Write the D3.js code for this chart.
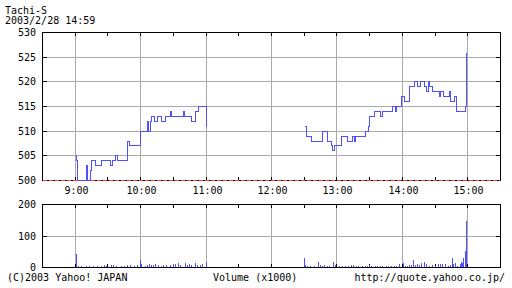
<!DOCTYPE html>
<html>
<head>
<meta charset="utf-8">
<script src="https://cdn.jsdelivr.net/npm/d3@7"></script>
<style>
  body { margin: 0; background: #fff; }
  svg { display: block; }
  text { font-family: "DejaVu Sans Mono", monospace; font-size: 10px; fill: #000; }
</style>
</head>
<body>
<div id="chart"></div>
<script>
// Header texts
const title = "Tachi-S";
const stamp = "2003/2/28 14:59";

// Axis ticks
const priceTicks = [500, 505, 510, 515, 520, 525, 530];
const volumeTicks = [0, 100, 200];
const hourTicks = ["9:00", "10:00", "11:00", "12:00", "13:00", "14:00", "15:00"];

// Price (yen), step changes, morning and afternoon sessions
const amPrice = [
  ["9:00", 505], ["9:01", 504], ["9:02", 500], ["9:10", 503], ["9:11", 500],
  ["9:14", 502], ["9:15", 504], ["9:19", 503], ["9:24", 504], ["9:32", 503],
  ["9:34", 504], ["9:37", 505], ["9:39", 504], ["9:48", 508], ["9:50", 507],
  ["10:00", 510], ["10:06", 512], ["10:07", 510], ["10:09", 512], ["10:10", 513],
  ["10:13", 512], ["10:15", 513], ["10:19", 512], ["10:23", 513], ["10:27", 514],
  ["10:28", 513], ["10:39", 514], ["10:40", 513], ["10:47", 512], ["10:50", 514],
  ["10:53", 515], ["11:00", 511]
];
const pmPrice = [
  ["12:30", 511], ["12:32", 509], ["12:37", 508], ["12:47", 510], ["12:51", 508],
  ["12:55", 507], ["12:56", 506], ["12:58", 507], ["13:04", 509], ["13:10", 508],
  ["13:14", 509], ["13:16", 508], ["13:17", 509], ["13:26", 510], ["13:29", 511],
  ["13:30", 513], ["13:34", 514], ["13:40", 513], ["13:42", 514], ["13:51", 515],
  ["13:54", 514], ["13:55", 515], ["13:59", 517], ["14:02", 516], ["14:07", 519],
  ["14:11", 520], ["14:14", 519], ["14:17", 520], ["14:20", 519], ["14:22", 518],
  ["14:24", 520], ["14:25", 519], ["14:28", 518], ["14:34", 517], ["14:35", 518],
  ["14:38", 517], ["14:43", 518], ["14:44", 516], ["14:48", 517], ["14:50", 514],
  ["14:58", 515], ["14:59", 526]
];

// Volume (x1000 shares)
const amVolume = [
  ["9:01", 42], ["9:03", 4], ["9:06", 3], ["9:10", 2], ["9:13", 3], ["9:17", 3],
  ["9:20", 2], ["9:24", 3], ["9:27", 6], ["9:29", 3], ["9:33", 6], ["9:35", 7],
  ["9:38", 3], ["9:42", 4], ["9:45", 3], ["9:48", 5], ["9:51", 6], ["9:54", 4],
  ["9:57", 6], ["10:00", 23], ["10:01", 10], ["10:04", 3], ["10:06", 6], ["10:08", 9],
  ["10:10", 6], ["10:12", 6], ["10:14", 9], ["10:16", 6], ["10:19", 3], ["10:21", 7],
  ["10:24", 5], ["10:27", 6], ["10:30", 10], ["10:32", 8], ["10:35", 14], ["10:37", 6],
  ["10:41", 14], ["10:43", 5], ["10:45", 8], ["10:47", 6], ["10:50", 14], ["10:52", 7],
  ["10:55", 6], ["10:57", 9], ["11:00", 17]
];
const pmVolume = [
  ["12:30", 28], ["12:31", 6], ["12:33", 3], ["12:36", 4], ["12:39", 3], ["12:43", 16],
  ["12:45", 6], ["12:47", 4], ["12:49", 5], ["12:51", 4], ["12:53", 3], ["12:57", 15],
  ["12:59", 5], ["13:02", 3], ["13:05", 4], ["13:08", 3], ["13:11", 4], ["13:13", 5],
  ["13:15", 5], ["13:18", 3], ["13:20", 3], ["13:23", 3], ["13:26", 4], ["13:28", 2],
  ["13:30", 5], ["13:32", 4], ["13:35", 3], ["13:37", 3], ["13:40", 3], ["13:42", 4],
  ["13:45", 3], ["13:47", 2], ["13:50", 3], ["13:53", 4], ["13:55", 4], ["13:57", 9],
  ["14:01", 14], ["14:03", 4], ["14:05", 3], ["14:07", 5], ["14:08", 6], ["14:10", 23],
  ["14:12", 6], ["14:14", 9], ["14:16", 5], ["14:18", 12], ["14:20", 16], ["14:22", 8],
  ["14:25", 4], ["14:28", 5], ["14:30", 4], ["14:33", 9], ["14:35", 10], ["14:37", 11],
  ["14:40", 8], ["14:42", 4], ["14:44", 6], ["14:46", 28], ["14:47", 10], ["14:49", 14],
  ["14:51", 4], ["14:53", 11], ["14:54", 16], ["14:55", 14], ["14:56", 27], ["14:58", 52],
  ["14:59", 147]
];

const parse = d3.timeParse("%H:%M");
const fmt = d3.timeFormat("%-H:%M");
const px = v => Math.round(v) + 0.5;

const width = 512, height = 288;
const left = 42, right = 500;
const blue = "#5050ff", grid = "#aaaaaa";

const svg = d3.select("#chart").append("svg")
  .attr("width", width)
  .attr("height", height)
  .attr("shape-rendering", "crispEdges");

const x = d3.scaleTime()
  .domain([parse("8:30"), parse("15:30")])
  .range([left, right]);

const y = d3.scaleLinear().domain([500, 530]).range([180, 32]);
const yv = d3.scaleLinear().domain([0, 200]).range([267, 204]);

const halfHours = d3.timeMinute.every(30).range(parse("9:00"), parse("15:01"));

// Header
svg.append("text").attr("x", 5).attr("y", 14).text(title);
svg.append("text").attr("x", 5).attr("y", 24).text(stamp);

// Frame, grid and ticks for one panel
function panel(ys, gridValues, labels) {
  const top = ys.range()[1], bottom = ys.range()[0];
  const g = svg.append("g");

  g.selectAll(".hgrid").data(gridValues).enter().append("line")
    .attr("x1", left).attr("x2", right)
    .attr("y1", d => px(ys(d))).attr("y2", d => px(ys(d)))
    .attr("stroke", grid);

  g.selectAll(".vgrid").data(hourTicks).enter().append("line")
    .attr("x1", d => px(x(parse(d)))).attr("x2", d => px(x(parse(d))))
    .attr("y1", top).attr("y2", bottom)
    .attr("stroke", grid);

  g.append("rect")
    .attr("x", px(left)).attr("y", px(top))
    .attr("width", right - left).attr("height", bottom - top)
    .attr("fill", "none").attr("stroke", "#000");

  // 30 minute ticks on top and bottom
  g.selectAll(".ttick").data(halfHours).enter().append("line")
    .attr("x1", d => px(x(d))).attr("x2", d => px(x(d)))
    .attr("y1", top).attr("y2", top + 4)
    .attr("stroke", "#000");
  g.selectAll(".btick").data(halfHours).enter().append("line")
    .attr("x1", d => px(x(d))).attr("x2", d => px(x(d)))
    .attr("y1", bottom + 1).attr("y2", bottom - 3)
    .attr("stroke", "#000");

  // value ticks left and right
  g.selectAll(".ltick").data(gridValues).enter().append("line")
    .attr("x1", left).attr("x2", left + 5)
    .attr("y1", d => px(ys(d))).attr("y2", d => px(ys(d)))
    .attr("stroke", "#000");
  g.selectAll(".rtick").data(gridValues).enter().append("line")
    .attr("x1", right - 4).attr("x2", right + 1)
    .attr("y1", d => px(ys(d))).attr("y2", d => px(ys(d)))
    .attr("stroke", "#000");

  g.selectAll(".label").data(labels).enter().append("text")
    .attr("x", 36)
    .attr("y", d => Math.round(ys(d)) + 4)
    .attr("text-anchor", "end")
    .text(d => d);
}

panel(y, priceTicks.slice(1, -1), priceTicks);
panel(yv, volumeTicks.slice(1, -1), volumeTicks);

// Time labels
svg.selectAll(".hour").data(hourTicks).enter().append("text")
  .attr("x", d => px(x(parse(d))) + 1)
  .attr("y", 194)
  .attr("text-anchor", "middle")
  .text(d => fmt(parse(d)));

// Red dashed base line at 500
svg.append("line")
  .attr("x1", left + 1).attr("x2", right)
  .attr("y1", px(y(500))).attr("y2", px(y(500)))
  .attr("stroke", "#ff4040")
  .attr("stroke-dasharray", "4,2");

// Price lines
const line = d3.line()
  .curve(d3.curveStepAfter)
  .x(d => px(x(parse(d[0]))))
  .y(d => px(y(d[1])));

svg.selectAll(".price").data([amPrice, pmPrice]).enter().append("path")
  .attr("d", line)
  .attr("fill", "none")
  .attr("stroke", blue)
  .attr("stroke-width", 1);

// Volume bars
svg.selectAll(".vol").data(amVolume.concat(pmVolume)).enter().append("rect")
  .attr("x", d => Math.round(x(parse(d[0]))))
  .attr("width", 1)
  .attr("y", d => Math.round(yv(d[1])))
  .attr("height", d => Math.round(yv(0)) - Math.round(yv(d[1])))
  .attr("fill", blue);

// Footer
svg.append("text").attr("x", 7).attr("y", 281).text("(C)2003 Yahoo! JAPAN");
svg.append("text").attr("x", 213).attr("y", 281).text("Volume (x1000)");
svg.append("text").attr("x", 505).attr("y", 281).attr("text-anchor", "end")
  .text("http://quote.yahoo.co.jp/");
</script>
</body>
</html>
